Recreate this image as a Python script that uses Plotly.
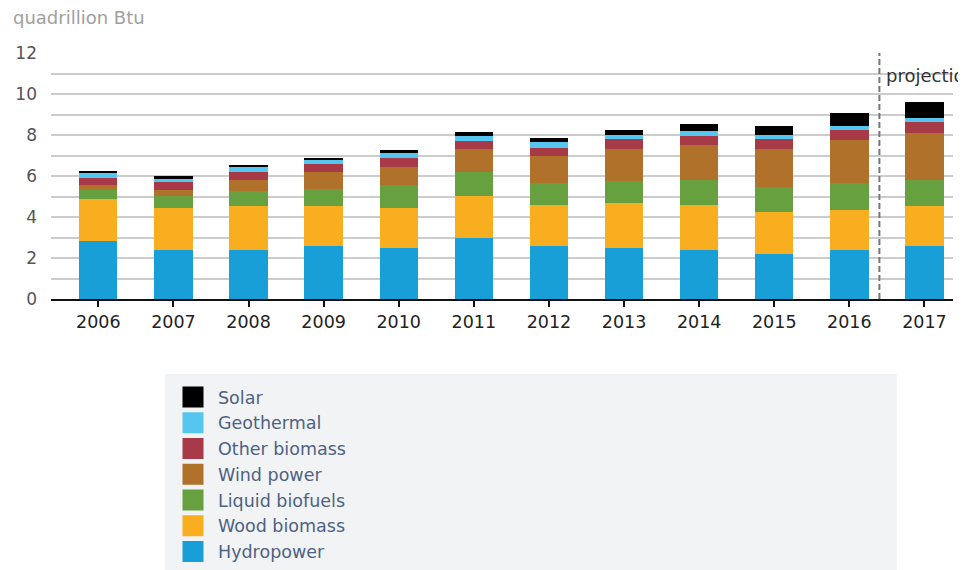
import plotly.graph_objects as go

years = ["2006", "2007", "2008", "2009", "2010", "2011", "2012", "2013", "2014", "2015", "2016", "2017"]

hydropower      = [2.81, 2.41, 2.41, 2.57, 2.49, 2.98, 2.57, 2.49, 2.41, 2.21, 2.41, 2.57]
wood_biomass    = [2.07, 2.01, 2.11, 1.95, 1.93, 2.03, 2.03, 2.19, 2.19, 2.03, 1.92, 1.95]
liquid_biofuels = [0.42, 0.62, 0.76, 0.85, 1.14, 1.17, 1.06, 1.06, 1.22, 1.22, 1.33, 1.30]
wind_power      = [0.28, 0.26, 0.54, 0.81, 0.88, 1.14, 1.33, 1.59, 1.68, 1.87, 2.11, 2.28]
other_biomass   = [0.32, 0.39, 0.39, 0.42, 0.44, 0.40, 0.38, 0.47, 0.47, 0.47, 0.46, 0.52]
geothermal      = [0.28, 0.18, 0.21, 0.16, 0.24, 0.25, 0.29, 0.22, 0.21, 0.22, 0.23, 0.19]
solar           = [0.02, 0.11, 0.12, 0.13, 0.13, 0.18, 0.18, 0.24, 0.36, 0.44, 0.61, 0.78]

series_names = ["Hydropower", "Wood biomass", "Liquid biofuels", "Wind power",
                "Other biomass", "Geothermal", "Solar"]
series_values = [hydropower, wood_biomass, liquid_biofuels, wind_power,
                 other_biomass, geothermal, solar]
series_colors = ["#199fd8", "#f9ae20", "#66a03f", "#b0722a", "#a83a48", "#55c6f0", "#000000"]

y_tick_vals = [0, 2, 4, 6, 8, 10, 12]
unit_label = "quadrillion Btu"
projection_label = "projections"

FONT = "DejaVu Sans, Verdana, sans-serif"

fig = go.Figure()

for name, vals, col in zip(series_names, series_values, series_colors):
    fig.add_trace(go.Bar(
        x=years, y=vals, name=name, showlegend=False,
        marker=dict(color=col, line=dict(width=0)),
        hovertemplate=name + ": %{y}<extra></extra>",
    ))

# legend-only entries with larger swatches
for name, col in zip(series_names, series_colors):
    fig.add_trace(go.Scatter(
        x=[None], y=[None], mode="markers", name=name,
        marker=dict(symbol="square", size=16, color=col, line=dict(color=col, width=5)),
        showlegend=True,
    ))

# page body has an 8px margin; work in reference pixels minus that offset
OFF = 8
W, H = 966 - OFF, 570 - OFF
L, R, T = 51 - OFF, 13, 53 - OFF
B = H - (299 - OFF)
pw, ph = W - L - R, H - T - B


def pxx(px):  # reference pixel x -> paper
    return (px - OFF - L) / pw


def pxy(py):  # reference pixel y -> paper
    return (H - B - (py - OFF)) / ph


fig.update_layout(
    width=W, height=H,
    margin=dict(l=L, r=R, t=T, b=B, autoexpand=False),
    barmode="stack",
    bargap=0.49,
    plot_bgcolor="white",
    paper_bgcolor="white",
    font=dict(family=FONT, size=17, color="#333333"),
    xaxis=dict(
        type="category",
        range=[-0.63, 11.38],
        showgrid=False,
        showline=True, linecolor="#111111", linewidth=2,
        ticks="outside", ticklen=6, tickwidth=2, tickcolor="#111111",
        tickfont=dict(size=17.5, color="#222222"),
        zeroline=False,
        fixedrange=True,
    ),
    yaxis=dict(
        range=[0, 12],
        tickvals=y_tick_vals,
        showgrid=True, gridcolor="#cccccc", gridwidth=1.5,
        minor=dict(dtick=1, showgrid=True, gridcolor="#cccccc", gridwidth=1.5),
        zeroline=False,
        showline=False,
        ticks="",
        ticklabelstandoff=13,
        tickfont=dict(size=17, color="#555555"),
        fixedrange=True,
    ),
    legend=dict(
        traceorder="reversed",
        x=pxx(168), xanchor="left",
        y=pxy(379), yanchor="top",
        bgcolor="rgba(0,0,0,0)",
        font=dict(size=17.5, color="#4e6283", family=FONT),
        itemsizing="trace",
        itemwidth=40,
    ),
    shapes=[
        dict(type="rect", xref="paper", yref="paper",
             x0=pxx(165), x1=pxx(897),
             y0=pxy(585), y1=pxy(374),
             fillcolor="#f2f3f5", line=dict(width=0), layer="below"),
        dict(type="line", xref="x", yref="y",
             x0=10.4, x1=10.4, y0=0, y1=12,
             line=dict(color="#777777", width=2, dash="6px,3px")),
    ],
    annotations=[
        dict(text=unit_label, xref="paper", yref="paper",
             x=pxx(11), y=pxy(17),
             xanchor="left", yanchor="middle", showarrow=False,
             font=dict(size=18, color="#a0a0a0", family=FONT)),
        dict(text=projection_label, xref="x", yref="y",
             x=10.46, y=10.9, xanchor="left", yanchor="middle", showarrow=False,
             font=dict(size=18, color="#333333", family=FONT)),
    ],
)

fig.write_html("out.html")
